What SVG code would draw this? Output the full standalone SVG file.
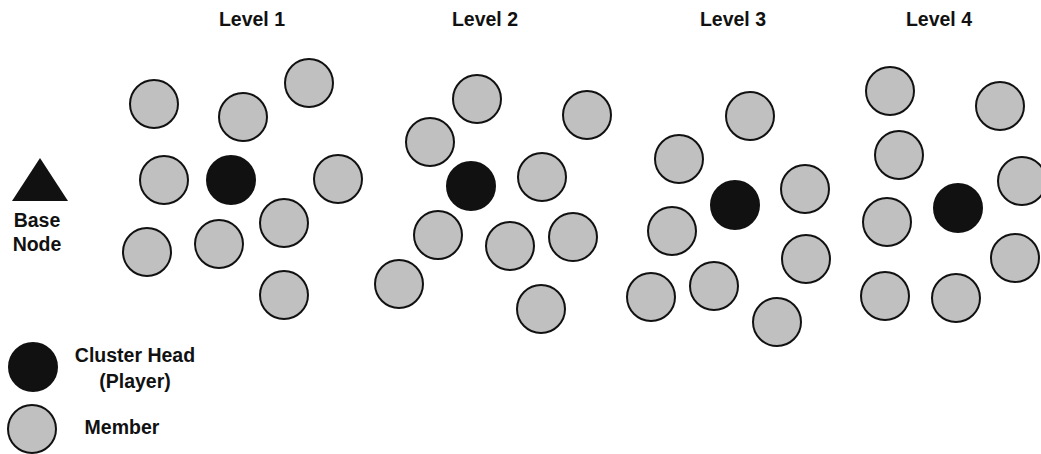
<svg xmlns="http://www.w3.org/2000/svg" width="1041" height="454" viewBox="0 0 1041 454">
<style>
.t{font-family:"Liberation Sans",Arial,sans-serif;font-weight:bold;font-size:19.5px;fill:#111;text-anchor:middle}
.m{fill:#c0c0c0;stroke:#111;stroke-width:2}
.h{fill:#111;stroke:#111;stroke-width:2}
</style>
<rect width="1041" height="454" fill="#fff"/>
<g id="titles">
<text class="t" x="252" y="26">Level 1</text>
<text class="t" x="485" y="26">Level 2</text>
<text class="t" x="733" y="26">Level 3</text>
<text class="t" x="939" y="26">Level 4</text>
</g>
<g id="base-node">
<polygon points="40,158 12,201 68,201" fill="#111"/>
<text class="t" x="37" y="227">Base</text>
<text class="t" x="37" y="251">Node</text>
</g>
<g id="level1">
<circle class="m" cx="154" cy="104" r="24"/>
<circle class="m" cx="243" cy="117" r="24"/>
<circle class="m" cx="309" cy="83" r="24"/>
<circle class="m" cx="164" cy="180" r="24"/>
<circle class="h" cx="231" cy="180" r="24"/>
<circle class="m" cx="338" cy="179" r="24"/>
<circle class="m" cx="284" cy="223" r="24"/>
<circle class="m" cx="219" cy="244" r="24"/>
<circle class="m" cx="147" cy="252" r="24"/>
<circle class="m" cx="284" cy="295" r="24"/>
</g>
<g id="level2">
<circle class="m" cx="477" cy="99" r="24"/>
<circle class="m" cx="587" cy="115" r="24"/>
<circle class="m" cx="430" cy="142" r="24"/>
<circle class="h" cx="471" cy="186" r="24"/>
<circle class="m" cx="542" cy="177" r="24"/>
<circle class="m" cx="438" cy="235" r="24"/>
<circle class="m" cx="510" cy="246" r="24"/>
<circle class="m" cx="573" cy="237" r="24"/>
<circle class="m" cx="399" cy="284" r="24"/>
<circle class="m" cx="541" cy="309" r="24"/>
</g>
<g id="level3">
<circle class="m" cx="750" cy="116" r="24"/>
<circle class="m" cx="679" cy="159" r="24"/>
<circle class="h" cx="735" cy="205" r="24"/>
<circle class="m" cx="805" cy="189" r="24"/>
<circle class="m" cx="672" cy="231" r="24"/>
<circle class="m" cx="806" cy="259" r="24"/>
<circle class="m" cx="651" cy="297" r="24"/>
<circle class="m" cx="714" cy="286" r="24"/>
<circle class="m" cx="777" cy="322" r="24"/>
</g>
<g id="level4">
<circle class="m" cx="890" cy="91" r="24"/>
<circle class="m" cx="1000" cy="106" r="24"/>
<circle class="m" cx="899" cy="155" r="24"/>
<circle class="m" cx="1022" cy="181" r="24"/>
<circle class="h" cx="958" cy="208" r="24"/>
<circle class="m" cx="887" cy="222" r="24"/>
<circle class="m" cx="1015" cy="258" r="24"/>
<circle class="m" cx="885" cy="296" r="24"/>
<circle class="m" cx="956" cy="298" r="24"/>
</g>
<g id="legend">
<circle class="h" cx="33" cy="367" r="24"/>
<text class="t" x="135" y="362">Cluster Head</text>
<text class="t" x="135" y="388">(Player)</text>
<circle class="m" cx="32" cy="429" r="24"/>
<text class="t" x="122" y="434">Member</text>
</g>
<g id="connectors"/>
</svg>
